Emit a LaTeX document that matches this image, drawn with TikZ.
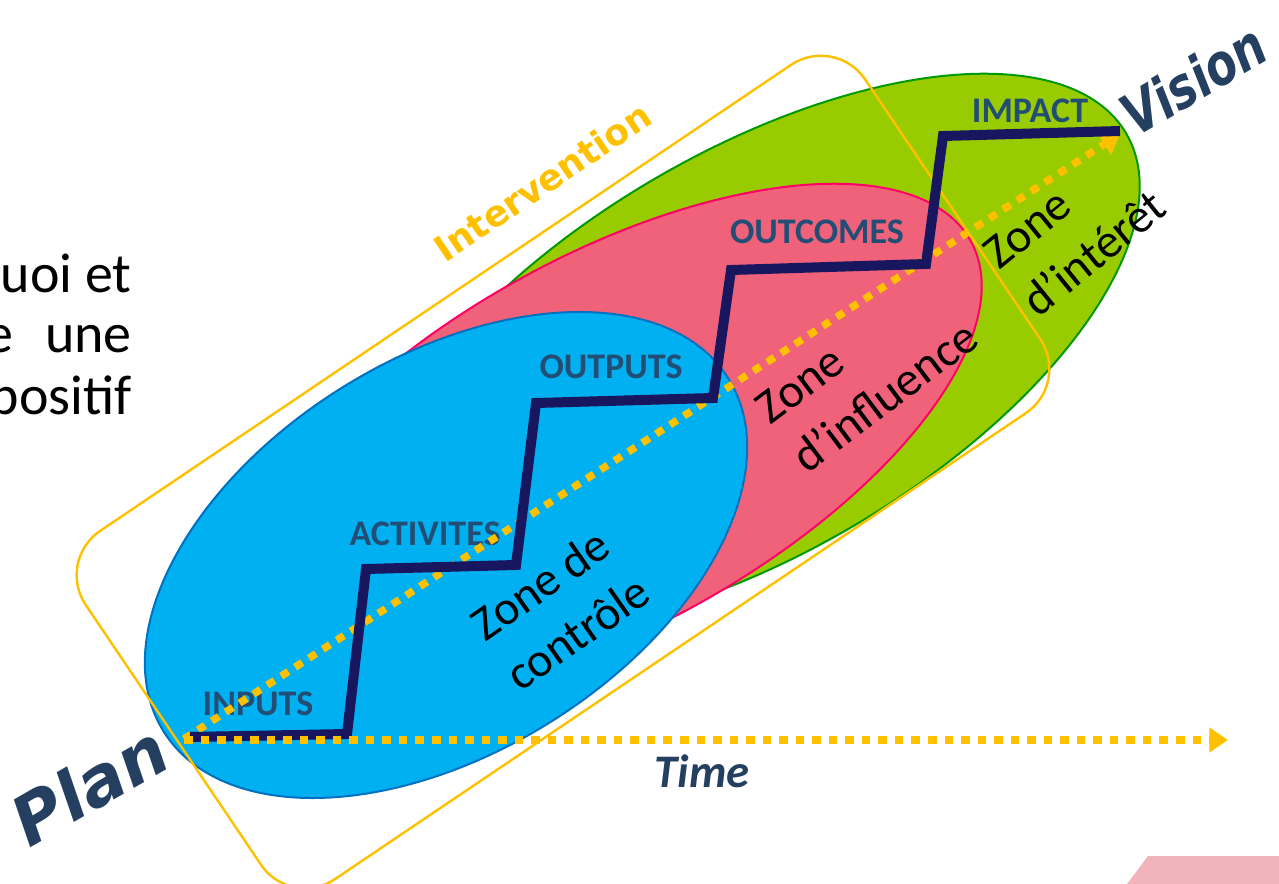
\documentclass[tikz,border=0pt]{standalone}
\usepackage{fontspec}
\usepackage{graphicx}
\setmainfont{Carlito}
\newfontfamily\verd{DejaVu Sans}
\usetikzlibrary{arrows.meta}
\definecolor{bluefill}{RGB}{0,176,240}
\definecolor{blueline}{RGB}{0,112,192}
\definecolor{pinkfill}{RGB}{240,98,122}
\definecolor{pinkline}{RGB}{255,0,102}
\definecolor{greenfill}{RGB}{153,204,0}
\definecolor{greenline}{RGB}{0,153,0}
\definecolor{gold}{RGB}{255,192,0}
\definecolor{navytwo}{RGB}{24,22,94}
\definecolor{lbl}{RGB}{34,78,118}
\definecolor{darktxt}{RGB}{36,63,96}
\definecolor{lightpink}{RGB}{240,180,186}
\begin{document}
\begin{tikzpicture}[x=0.75pt,y=-0.75pt,
  stage/.style={font=\fontsize{27}{32}\selectfont\bfseries, text=lbl, inner sep=0pt, anchor=base},
  zonelbl/.style={font=\fontsize{36}{46}\selectfont, align=left, inner sep=0pt, anchor=north west, text=black},
  dotline/.style={draw=gold, line width=5.6pt, dash pattern=on 6.4pt off 6pt},
  goldtip/.style={-{Triangle[length=14pt,width=18pt]}},
  zoneshape/.style={line width=1.5pt},
  bigword/.style={font=\verd\fontsize{51}{60}\selectfont\bfseries\itshape, text=darktxt, inner sep=0pt},
  sidetext/.style={font=\fontsize{42}{50}\selectfont, text=black, inner sep=0pt, anchor=base east}
]
\useasboundingbox (0,0) rectangle (1279,884);
\clip (0,0) rectangle (1279,884);

% zones
\begin{scope}[shift={(753,353)}, rotate=30.5]
  \filldraw[zoneshape, fill=greenfill, draw=greenline] (0,0) ellipse [x radius=324.75pt, y radius=150pt];
\end{scope}
\begin{scope}[shift={(608,442)}, rotate=29]
  \filldraw[zoneshape, fill=pinkfill, draw=pinkline] (0,0) ellipse [x radius=311pt, y radius=139pt];
\end{scope}
\begin{scope}[shift={(446,555)}, rotate=32]
  \filldraw[zoneshape, fill=bluefill, draw=blueline] (0,0) ellipse [x radius=249.75pt, y radius=147.75pt];
\end{scope}

% intervention frame
\begin{scope}[shift={(563,472)}, rotate=34]
  \draw[gold, line width=1.8pt, rounded corners=40pt] (-470,-210) rectangle (470,210);
\end{scope}

% zone labels
\node[zonelbl, rotate=35] (zc) at (466,615) {Zone de\\contrôle};
\node[zonelbl, rotate=37] (zi) at (752,401) {Zone\\d’influence};
\node[zonelbl, rotate=39] (zt) at (980,247) {Zone\\d’intérêt};

% stage labels
\node[stage] (inputs) at (258,715) {INPUTS};
\node[stage] (activites) at (425,545) {ACTIVITES};
\node[stage] (outputs) at (611,379) {OUTPUTS};
\node[stage] (outcomes) at (817,244) {OUTCOMES};
\node[stage] (impact) at (1030,123) {IMPACT};

% arrows end points
\coordinate (origin) at (184,739);
\coordinate (visiontip) at (1120,134);
\coordinate (timestart) at (184,740);
\coordinate (timetip) at (1228,740);

\draw[dotline, goldtip] (origin) -- (visiontip);

% staircase
\draw[navytwo, line width=7.5pt, line join=miter]
  (190,737) -- (347,734) -- (366,569) -- (516,565) -- (536,403) -- (713,398)
  -- (731,270) -- (926,264) -- (943,136) -- (1120,131);

\draw[dotline, goldtip] (timestart) -- (timetip);

% words
\node[bigword, rotate=30, anchor=base west] (plan) at (29,849) {Plan};
\node[bigword, font=\verd\fontsize{43}{50}\selectfont\bfseries\itshape, rotate=30.5, anchor=base] (vision) at (1204,98) {\scalebox{0.8}[1]{Vision}};
\node[font=\fontsize{35}{40}\selectfont\bfseries\itshape, text=darktxt, anchor=base, inner sep=0pt] (time) at (702,787) {Time};
\node[font=\verd\fontsize{27}{30}\selectfont\bfseries, text=gold, rotate=34, anchor=base, inner sep=0pt] (interv) at (550,193) {Intervention};

% cropped side text
\node[sidetext] (s1) at (132,293) {uoi et};
\node[sidetext] (s2) at (132,353) {e\hspace{24pt}une};
\node[sidetext] (s3) at (132,415) {positif};

% corner patch
\fill[lightpink] (1148,856) -- (1279,856) -- (1279,884) -- (1127,884) -- cycle;
\end{tikzpicture}
\end{document}
